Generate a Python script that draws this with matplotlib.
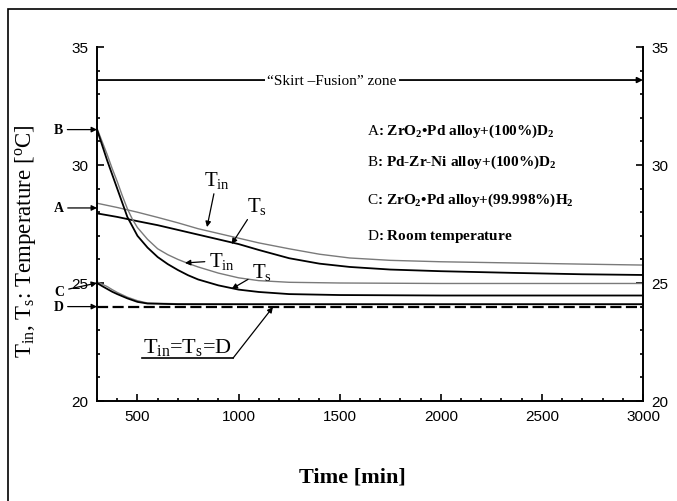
#Cooling curves: T_in and T_s vs time for the three sample/gas runs
import matplotlib
matplotlib.use('Agg')
import matplotlib.pyplot as plt
from matplotlib.ticker import MultipleLocator
from matplotlib.patches import Rectangle

plt.rcParams['font.family'] = 'Liberation Sans'
plt.rcParams['mathtext.fontset'] = 'custom'
plt.rcParams['mathtext.rm'] = 'Liberation Serif'
plt.rcParams['mathtext.it'] = 'Liberation Serif:italic'
plt.rcParams['mathtext.bf'] = 'Liberation Serif:bold'

# values (time in min, temperature in degC)
tA = [300, 400, 500, 600, 700, 800, 900, 1000, 1100, 1250, 1400, 1550, 1750, 2000, 2350, 2700, 3000]
A_tin = [28.38, 28.2, 28.0, 27.78, 27.55, 27.3, 27.1, 26.9, 26.7, 26.45, 26.22, 26.06, 25.96, 25.9,
         25.85, 25.8, 25.76]
A_ts = [27.95, 27.8, 27.62, 27.45, 27.25, 27.05, 26.85, 26.65, 26.4, 26.05, 25.82, 25.68, 25.57, 25.5,
        25.43, 25.37, 25.34]

tB = [300, 325, 350, 375, 400, 425, 450, 475, 500, 550, 600, 650, 700, 750, 800, 900, 1000, 1100,
      1250, 1500, 2000, 3000]
B_tin = [31.55, 31.0, 30.45, 29.85, 29.3, 28.7, 28.15, 27.7, 27.35, 26.85, 26.45, 26.2, 26.0, 25.83,
         25.68, 25.42, 25.22, 25.1, 25.03, 25.0, 24.98, 24.98]
B_ts = [31.5, 30.85, 30.2, 29.6, 29.0, 28.4, 27.8, 27.4, 27.0, 26.5, 26.1, 25.8, 25.55, 25.33, 25.15,
        24.9, 24.72, 24.62, 24.53, 24.49, 24.47, 24.47]

tC = [300, 325, 350, 375, 400, 450, 500, 550, 700, 1000, 3000]
C_tin = [25.05, 24.95, 24.85, 24.72, 24.6, 24.4, 24.25, 24.15, 24.12, 24.1, 24.1]
C_ts = [25.0, 24.87, 24.75, 24.63, 24.53, 24.35, 24.2, 24.13, 24.1, 24.1, 24.1]

tD = [300, 3000]
D_room = [24.0, 24.0]

legend_lines = [
    r'$\mathrm{A}$: ZrO$_{\mathbf{2}}$•Pd alloy+(100%)D$_{\mathbf{2}}$',
    r'$\mathrm{B}$: Pd-Zr-Ni alloy+(100%)D$_{\mathbf{2}}$',
    r'$\mathrm{C}$: ZrO$_{\mathbf{2}}$•Pd alloy+(99.998%)H$_{\mathbf{2}}$',
    r'$\mathrm{D}$: Room temperature',
]

serif = 'Liberation Serif'
grey = '#7a7a7a'

fig = plt.figure(figsize=(6.77, 5.02), dpi=100)
# outer frame (only left and top edges fall inside the picture)
fig.patches.append(Rectangle((8/677, -0.2), 1.5, 1 - 10/502 + 0.2, transform=fig.transFigure,
                             fill=False, lw=1.2, ec='k'))
ax = fig.add_axes([97/677, 100/502, 546/677, 354/502])

ax.plot(tA, A_tin, color=grey, lw=1.0)
ax.plot(tA, A_ts, color='k', lw=1.3)
ax.plot(tB, B_tin, color=grey, lw=1.0)
ax.plot(tB, B_ts, color='k', lw=1.3)
ax.plot(tC, C_tin, color=grey, lw=1.0)
ax.plot(tC, C_ts, color='k', lw=1.3)
ax.plot(tD, D_room, color='k', lw=1.6, dashes=(5, 2))

ax.set_xlim(300, 3000)
ax.set_ylim(20, 35)
ax.xaxis.set_major_locator(MultipleLocator(500))
ax.xaxis.set_minor_locator(MultipleLocator(100))
ax.yaxis.set_major_locator(MultipleLocator(5))
ax.yaxis.set_minor_locator(MultipleLocator(1))
ax.spines['top'].set_visible(False)
for s in ['left', 'right', 'bottom']:
    ax.spines[s].set_linewidth(1.4)
ax.tick_params(which='both', direction='in', right=True, labelright=True, top=False, width=1.2)
ax.tick_params(which='major', length=5, labelsize=11, pad=6)
ax.tick_params(which='minor', length=2.5)

ax.set_ylabel(r'T$_{\rm in}$, T$_{\rm s}$: Temperature [$^{\rm o}$C]', family=serif, fontsize=16.5)
ax.yaxis.set_label_coords(-0.108, 0.455)
fig.text(352/677, 1 - 478/502, 'Time [min]', family=serif, fontsize=16, weight='bold',
         ha='center', va='center')

arw = dict(arrowstyle='-|>', color='k', lw=0.9, mutation_scale=8, shrinkA=1, shrinkB=0)

# "Skirt-Fusion" zone
ax.annotate('', xy=(3000, 33.6), xytext=(300, 33.6), arrowprops=dict(arw, lw=1.3))
ax.text(1462, 33.6, '“Skirt –Fusion” zone', family=serif, fontsize=11, ha='center', va='center',
        bbox=dict(fc='white', ec='none', pad=1.5))

# run letters on the left axis
for lab, yv in [('B', 31.5), ('A', 28.18), ('D', 24.0)]:
    ax.annotate(lab, xy=(300, yv), xytext=(110, yv), family=serif, weight='bold', fontsize=10,
                ha='center', va='center', arrowprops=arw, annotation_clip=False)
ax.annotate('C', xy=(300, 25.0), xytext=(115, 24.66), family=serif, weight='bold', fontsize=10,
            ha='center', va='center', arrowprops=arw, annotation_clip=False)

# curve labels
lab_kw = dict(family=serif, fontsize=15, ha='center', va='center', arrowprops=arw)
ax.annotate(r'T$_{\rm in}$', xy=(844, 27.37), xytext=(893, 29.4), **lab_kw)
ax.annotate(r'T$_{\rm s}$', xy=(966, 26.65), xytext=(1090, 28.3), **lab_kw)
ax.annotate(r'T$_{\rm in}$', xy=(735, 25.85), xytext=(918, 25.95), **lab_kw)
ax.annotate(r'T$_{\rm s}$', xy=(966, 24.75), xytext=(1116, 25.5), **lab_kw)

ax.text(745, 22.33, r'T$_{\rm in}$=T$_{\rm s}$=D', family=serif, fontsize=16, ha='center', va='center')
ax.plot([522, 973], [21.82, 21.82], color='k', lw=1.2)
ax.annotate('', xy=(1170, 23.98), xytext=(973, 21.82), arrowprops=dict(arw, shrinkA=0))

# legend block
for txt, yv in zip(legend_lines, [31.48, 30.17, 28.56, 27.0]):
    ax.text(1635, yv, txt, family=serif, fontsize=11, weight='bold', ha='left', va='center')

fig.savefig('out.png', dpi=100)
